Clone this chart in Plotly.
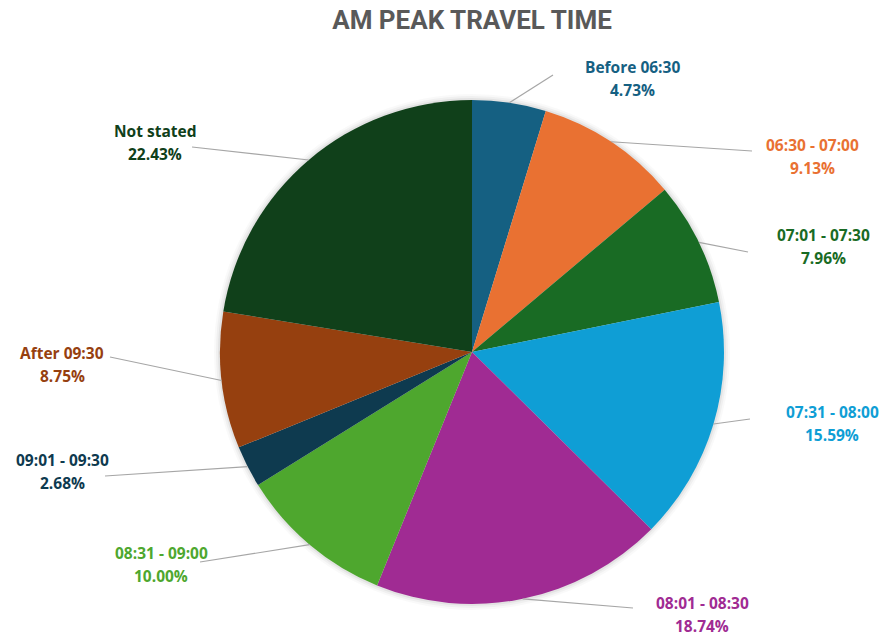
import math
import plotly.graph_objects as go

# Share of AM peak trips by departure time band
categories = ["Before 06:30", "06:30 - 07:00", "07:01 - 07:30", "07:31 - 08:00",
              "08:01 - 08:30", "08:31 - 09:00", "09:01 - 09:30", "After 09:30",
              "Not stated"]
shares = [4.73, 9.13, 7.96, 15.59, 18.74, 10.00, 2.68, 8.75, 22.43]

colors = ["#156082", "#E97132", "#196B24", "#0F9ED5", "#A02B93",
          "#4EA72E", "#0E3A4F", "#96400F", "#10401A"]

W, H = 883, 639
CX, CY, R = 472, 352, 252  # pie centre and radius in pixels

# label text centre (px) and leader-line end point (px), one per slice
label_pos = [(632, 67), (812, 145), (823, 235), (832, 412), (702, 603),
             (161, 553), (62, 460), (62, 353), (155, 131)]
leader_end = [(553, 75), (752, 151), (748, 252), (750, 419), (633, 608),
              (200, 562), (105, 476), (110, 357), (192, 147)]
LINE_GAP = 23


def px(x, y):
    return x / W, 1 - y / H


fig = go.Figure(go.Pie(
    labels=categories,
    values=shares,
    sort=False,
    direction="clockwise",
    rotation=0,
    marker=dict(colors=colors, line=dict(width=0)),
    textinfo="none",
    hoverinfo="label+percent",
    showlegend=False,
    domain=dict(x=[(CX - R) / W, (CX + R) / W],
                y=[1 - (CY + R) / H, 1 - (CY - R) / H]),
))

shapes = []
# soft halo around the pie
for k, a in [(6, 0.025), (4, 0.035), (2, 0.05)]:
    x0, y0 = px(CX - R - k, CY - R - k)
    x1, y1 = px(CX + R + k, CY + R + k)
    shapes.append(dict(type="circle", xref="paper", yref="paper",
                       x0=x0, y0=y1, x1=x1, y1=y0, layer="below",
                       line=dict(width=0), fillcolor=f"rgba(0,0,0,{a})"))

annotations = []
total = sum(shares)
cum = 0.0
for name, v, col, (lx, ly), (ex, ey) in zip(categories, shares, colors,
                                             label_pos, leader_end):
    mid = (cum + v / 2) / total * 2 * math.pi
    cum += v
    sx = CX + R * math.sin(mid)
    sy = CY - R * math.cos(mid)
    a0 = px(sx, sy)
    a1 = px(ex, ey)
    shapes.append(dict(type="line", xref="paper", yref="paper",
                       x0=a0[0], y0=a0[1], x1=a1[0], y1=a1[1],
                       line=dict(color="#A6A6A6", width=1.2)))
    for txt, yy in [(name, ly), (f"{v:.2f}%", ly + LINE_GAP)]:
        p = px(lx, yy)
        annotations.append(dict(x=p[0], y=p[1], xref="paper", yref="paper",
                                text=f"<b>{txt}</b>", showarrow=False,
                                xanchor="center", yanchor="middle",
                                font=dict(family="Open Sans", size=15.5, color=col)))

fig.update_layout(
    width=W, height=H,
    margin=dict(l=0, r=0, t=0, b=0),
    paper_bgcolor="white",
    plot_bgcolor="white",
    title=dict(text="<b>AM PEAK TRAVEL TIME</b>", x=472 / W, xanchor="center",
               y=1 - 20 / H, yanchor="middle",
               font=dict(family="Roboto", size=26, color="#595959")),
    shapes=shapes,
    annotations=annotations,
)

fig.write_html("out.html")
